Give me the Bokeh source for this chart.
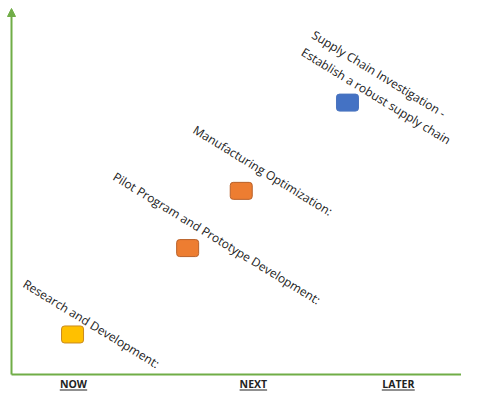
from bokeh.plotting import figure
from bokeh.models import Range1d, Arrow, NormalHead
from bokeh.core.properties import value
from bokeh.embed import file_html
from bokeh.resources import INLINE

# ---- data ----
phases = ["NOW", "NEXT", "LATER"]
phase_x = [13.3, 51.9, 83.0]

items = [
    "Research and Development:",
    "Pilot Program and Prototype Development:",
    "Manufacturing Optimization:",
    "Supply Chain Investigation -\nEstablish a robust supply chain",
]
item_stage = ["NOW", "NEXT", "NEXT", "LATER"]
item_x = [13.1, 37.8, 49.3, 72.1]
item_y = [10.7, 33.8, 49.1, 72.7]
label_x = [3.7, 23.0, 40.2, 65.7]
label_y = [26.5, 55.2, 67.7, 93.1]

# ---- styles ----
SX, SY = 4.66, 3.74  # px per data unit
W, H = 461, 392
OX, OY = 11, 374     # origin in px
GREEN = "#70AD47"
TEXT = "#222222"
fill_map = {"NOW": "#FFC000", "NEXT": "#ED7D31", "LATER": "#4472C4"}
line_map = {"NOW": "#C98A1E", "NEXT": "#B8612A", "LATER": "#4A74BE"}
BOLD_W = {"N": .77, "O": .79, "W": 1.05, "E": .57, "X": .68, "T": .60,
          "L": .57, "A": .72, "R": .68}
FS_BOLD = 10.5

p = figure(width=W, height=H, output_backend="svg", toolbar_location=None,
           tools="", x_range=Range1d(-OX / SX, (W - OX) / SX),
           y_range=Range1d((OY - H) / SY, OY / SY),
           x_axis_location=None, y_axis_location=None, min_border=0)
p.grid.visible = False
p.outline_line_color = None
p.background_fill_color = "white"

# axes
p.segment(x0=[0], y0=[0], x1=[p.x_range.end], y1=[0], line_color=GREEN, line_width=2)
p.add_layout(Arrow(x_start=0, y_start=0, x_end=0, y_end=(OY - 8) / SY,
                   line_color=GREEN, line_width=2,
                   end=NormalHead(size=8, fill_color=GREEN, line_color=GREEN)))

# markers
p.rect(x=item_x, y=item_y, width=22, height=17, width_units="screen",
       height_units="screen",
       fill_color=[fill_map[s] for s in item_stage],
       line_color=[line_map[s] for s in item_stage], line_width=1,
       border_radius=3)

# item labels
p.text(x=label_x, y=label_y, text=items, angle=-31.5, angle_units="deg",
       text_font=value("Open Sans"), text_font_size="12px",
       text_align="left", text_baseline="top", text_color=TEXT,
       text_line_height=1.2)

# phase labels
ly = (OY - 376.5) / SY
p.text(x=phase_x, y=[ly] * 3, text=phases, text_font=value("Open Sans"),
       text_font_size=f"{FS_BOLD}px", text_font_style="bold",
       text_align="center", text_baseline="top", text_color=TEXT)
half = [sum(BOLD_W.get(c, .65) for c in s) * FS_BOLD / 2 / SX for s in phases]
uy = (OY - 389.5) / SY
p.segment(x0=[x - h for x, h in zip(phase_x, half)], y0=[uy] * 3,
          x1=[x + h for x, h in zip(phase_x, half)], y1=[uy] * 3,
          line_color=TEXT, line_width=1.2)

open("out.html", "w").write(file_html(p, INLINE))
